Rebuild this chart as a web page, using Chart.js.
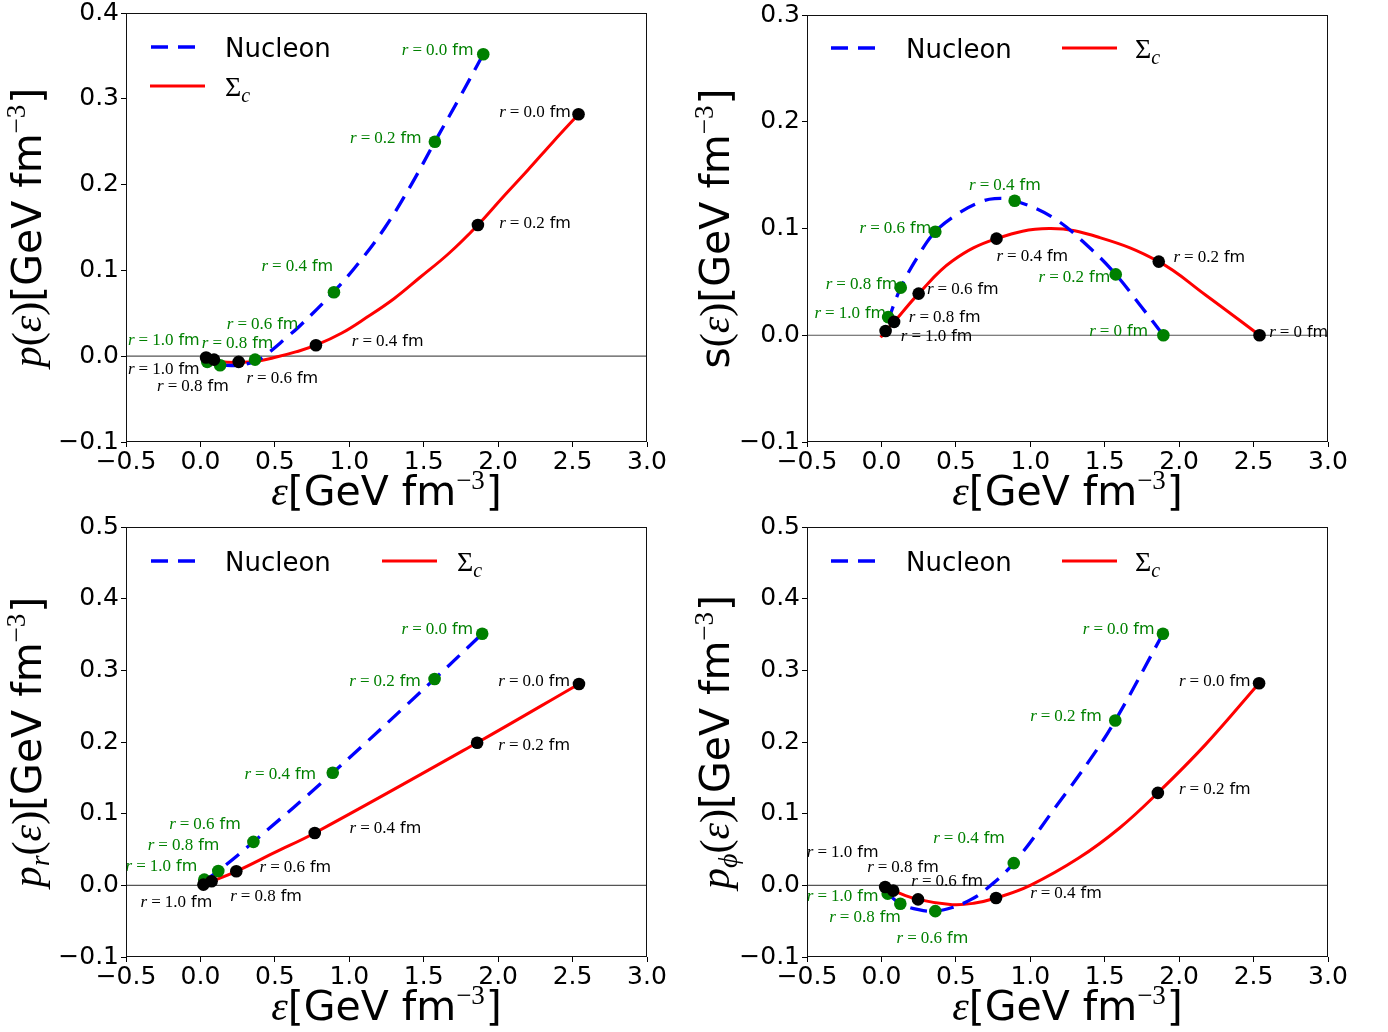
<!DOCTYPE html>
<html><head><meta charset="utf-8">
<script src="https://cdn.jsdelivr.net/npm/chart.js@4.4.1/dist/chart.umd.min.js"></script>
<style>
html,body{margin:0;padding:0;background:#fff}
body{width:1388px;height:1032px;position:relative;overflow:hidden}
.p{position:absolute;width:694px;height:516px}
canvas{display:block}
</style></head><body>
<div class="p" style="left:0;top:0"><canvas id="c1" width="694" height="516"></canvas></div>
<div class="p" style="left:694px;top:0"><canvas id="c2" width="694" height="516"></canvas></div>
<div class="p" style="left:0;top:516px"><canvas id="c3" width="694" height="516"></canvas></div>
<div class="p" style="left:694px;top:516px"><canvas id="c4" width="694" height="516"></canvas></div>
<script>
// ---------------- DATA ----------------
const rLabels  = ['0.0','0.2','0.4','0.6','0.8','1.0'];
const rLabelsS = ['0','0.2','0.4','0.6','0.8','1.0'];
const seriesNames = ['Nucleon', 'Σc'];
const xTicks = [-0.5, 0.0, 0.5, 1.0, 1.5, 2.0, 2.5, 3.0];

// Panel 1: p(eps)
const p_nucEps = [1.90, 1.575, 0.897, 0.367, 0.132, 0.046];
const p_nucVal = [0.352, 0.250, 0.0746, -0.004, -0.0105, -0.0066];
const p_sigEps = [2.54, 1.864, 0.776, 0.257, 0.091, 0.038];
const p_sigVal = [0.282, 0.153, 0.0128, -0.0066, -0.004, -0.0015];
const p_nucCurveEps = [0.13, 0.25, 0.37, 0.45, 0.58, 0.66, 0.89, 1.06, 1.24, 1.41, 1.575, 1.74, 1.90];
const p_nucCurveVal = [-0.0105, -0.0105, -0.006, 0.003, 0.022, 0.034, 0.074, 0.108, 0.150, 0.198, 0.250, 0.301, 0.352];
const p_sigCurveEps = [0.03, 0.13, 0.25, 0.38, 0.51, 0.64, 0.776, 0.95, 1.115, 1.30, 1.476, 1.67, 1.864, 2.03, 2.2, 2.37, 2.54];
const p_sigCurveVal = [-0.002, -0.0062, -0.0072, -0.0058, -0.001, 0.005, 0.0128, 0.027, 0.045, 0.067, 0.092, 0.120, 0.153, 0.185, 0.217, 0.250, 0.282];

// Panel 2: s(eps)
const s_nucEps = [1.894, 1.574, 0.895, 0.362, 0.13, 0.045];
const s_nucVal = [0.0, 0.057, 0.126, 0.097, 0.0446, 0.017];
const s_sigEps = [2.54, 1.863, 0.773, 0.25, 0.085, 0.028];
const s_sigVal = [0.0, 0.069, 0.0905, 0.039, 0.0125, 0.004];
const s_nucCurveEps = [0.04, 0.13, 0.25, 0.362, 0.504, 0.65, 0.76, 0.895, 1.155, 1.41, 1.574, 1.75, 1.894];
const s_nucCurveVal = [0.012, 0.0446, 0.075, 0.097, 0.113, 0.124, 0.128, 0.126, 0.110, 0.0805, 0.057, 0.026, 0.0];
const s_sigCurveEps = [-0.005, 0.028, 0.085, 0.25, 0.476, 0.773, 1.127, 1.467, 1.863, 2.175, 2.54];
const s_sigCurveVal = [-0.002, 0.004, 0.0125, 0.039, 0.0696, 0.0905, 0.0999, 0.0915, 0.069, 0.038, 0.0];

// Panel 3: p_r(eps)
const pr_nucEps = [1.893, 1.573, 0.889, 0.356, 0.12, 0.026];
const pr_nucVal = [0.351, 0.288, 0.157, 0.0606, 0.020, 0.008];
const pr_sigEps = [2.543, 1.859, 0.768, 0.241, 0.075, 0.02];
const pr_sigVal = [0.281, 0.199, 0.073, 0.0196, 0.0056, 0.001];
const pr_nucCurveEps = [0.026, 0.12, 0.356, 0.889, 1.573, 1.893];
const pr_nucCurveVal = [0.006, 0.020, 0.0606, 0.157, 0.288, 0.351];
const pr_sigCurveEps = [0.02, 0.075, 0.241, 0.5, 0.768, 1.859, 2.543];
const pr_sigCurveVal = [0.001, 0.0056, 0.0196, 0.046, 0.073, 0.199, 0.281];

// Panel 4: p_phi(eps)
const pf_nucEps = [1.891, 1.571, 0.889, 0.362, 0.127, 0.042];
const pf_nucVal = [0.351, 0.230, 0.031, -0.036, -0.0256, -0.0116];
const pf_sigEps = [2.537, 1.857, 0.770, 0.246, 0.079, 0.025];
const pf_sigVal = [0.282, 0.129, -0.0177, -0.0196, -0.0074, -0.0023];
const pf_nucCurveEps = [0.042, 0.127, 0.25, 0.362, 0.476, 0.6, 0.70, 0.889, 1.18, 1.40, 1.571, 1.891];
const pf_nucCurveVal = [-0.0116, -0.0256, -0.034, -0.036, -0.031, -0.02, -0.006, 0.031, 0.112, 0.175, 0.230, 0.351];
const pf_sigCurveEps = [0.025, 0.079, 0.246, 0.476, 0.62, 0.77, 1.0, 1.325, 1.6, 1.857, 2.175, 2.537];
const pf_sigCurveVal = [-0.0023, -0.0074, -0.0196, -0.027, -0.025, -0.0177, 0.0, 0.038, 0.080, 0.129, 0.196, 0.282];

// ---------------- ANNOTATION ANCHORS (data units: left x, middle y) ----------------
const annot = {
  p:  {nuc: [[1.353,0.358],[1.005,0.2556],[0.41,0.1066],[0.177,0.0385],[0.009,0.0167],[-0.487,0.0206]],
       sig: [[2.007,0.2855],[2.007,0.1565],[1.017,0.0186],[0.309,-0.0241],[-0.291,-0.0338],[-0.487,-0.0143]]},
  s:  {nuc: [[1.396,0.0047],[1.056,0.0556],[0.589,0.1414],[-0.147,0.1018],[-0.374,0.0493],[-0.45,0.0222]],
       sig: [[2.605,0.004],[1.962,0.0743],[0.773,0.0752],[0.306,0.044],[0.184,0.0181],[0.130,0.0]]},
  pr: {nuc: [[1.351,0.359],[1.0,0.287],[0.296,0.157],[-0.21,0.0872],[-0.354,0.0574],[-0.503,0.028]],
       sig: [[2.001,0.287],[2.001,0.197],[1.002,0.0807],[0.397,0.0266],[0.2,-0.013],[-0.402,-0.0224]]},
  pf: {nuc: [[1.353,0.3585],[0.999,0.2374],[0.348,0.0675],[0.102,-0.0726],[-0.351,-0.0433],[-0.501,-0.013]],
       sig: [[1.999,0.2863],[1.999,0.136],[0.999,-0.0093],[0.201,0.0079],[-0.096,0.027],[-0.501,0.0475]]}
};

// ---------------- HELPERS ----------------
const SERIF = '"Liberation Serif", "DejaVu Serif", serif';
const SANS = '"DejaVu Sans", sans-serif';
const GREEN = '#008000';
function pts(xs, ys){ return xs.map((x,i)=>({x:x, y:ys[i]})); }
function fmt(v){ const r = Math.round(v*10)/10; return (r<0?'\u2212':'') + Math.abs(r).toFixed(1); }

function richWidth(ctx, segs){ let w=0; for(const s of segs){ ctx.font=s.f; w+=ctx.measureText(s.t).width+(s.sp||0);} return w; }
function drawRich(ctx, segs, x, y, align, rot, color){
  ctx.save(); ctx.translate(x,y); if(rot) ctx.rotate(rot);
  const w = richWidth(ctx, segs);
  let cx = align==='center' ? -w/2 : (align==='right' ? -w : 0);
  ctx.textBaseline='alphabetic'; ctx.textAlign='left';
  for(const s of segs){ ctx.font=s.f; ctx.fillStyle=s.c||color||'#000'; ctx.fillText(s.t, cx, s.dy||0); cx += ctx.measureText(s.t).width+(s.sp||0); }
  ctx.restore();
}
function rSegs(val){
  return [
    {t:'r', f:'italic 17px '+SERIF, sp:4},
    {t:'=', f:'17px '+SERIF, sp:4},
    {t:val, f:'17px '+SERIF, sp:5},
    {t:'fm', f:'16px '+SANS}
  ];
}
function unitSegs(sz){
  return [
    {t:'[GeV fm', f:sz+'px '+SANS},
    {t:'\u22123', f:Math.round(sz*0.67)+'px '+SERIF, dy:-Math.round(sz*0.39), sp:1},
    {t:']', f:sz+'px '+SANS}
  ];
}
const xTitle = [{t:'\u03b5', f:'italic 42px '+SERIF}].concat(unitSegs(41));
function yT(head){ return head.concat(unitSegs(41)); }
const yTitles = {
  p:  yT([{t:'p', f:'italic 42px '+SERIF},{t:'(', f:'42px '+SERIF},{t:'\u03b5', f:'italic 42px '+SERIF},{t:')', f:'42px '+SERIF}]),
  s:  yT([{t:'s', f:'41px '+SANS},{t:'(', f:'42px '+SERIF},{t:'\u03b5', f:'italic 42px '+SERIF},{t:')', f:'42px '+SERIF}]),
  pr: yT([{t:'p', f:'italic 42px '+SERIF},{t:'r', f:'italic 28px '+SERIF, dy:8},{t:'(', f:'42px '+SERIF},{t:'\u03b5', f:'italic 42px '+SERIF},{t:')', f:'42px '+SERIF}]),
  pf: yT([{t:'p', f:'italic 42px '+SERIF},{t:'\u03d5', f:'italic 28px '+SERIF, dy:8},{t:'(', f:'42px '+SERIF},{t:'\u03b5', f:'italic 42px '+SERIF},{t:')', f:'42px '+SERIF}])
};

const decoPlugin = {
  id:'deco',
  afterDatasetsDraw(chart){
    const o = chart.config._deco; if(!o) return;
    const ctx = chart.ctx, a = chart.chartArea, xs = chart.scales.x, ys = chart.scales.y;
    ctx.save();
    ctx.beginPath(); ctx.rect(a.left, a.top, a.right-a.left, a.bottom-a.top); ctx.clip();
    const groups = [{pos:o.annot.nuc, c:GREEN}, {pos:o.annot.sig, c:'#000'}];
    groups.forEach(g=>{
      g.pos.forEach((pp,i)=>{
        const px = xs.getPixelForValue(pp[0]), py = ys.getPixelForValue(pp[1]);
        drawRich(ctx, rSegs(o.rl[i]), px, py+6, 'left', 0, g.c);
      });
    });
    ctx.restore();
  },
  afterDraw(chart){
    const o = chart.config._deco; if(!o) return;
    const ctx = chart.ctx, a = chart.chartArea;
    ctx.save(); ctx.strokeStyle='#111'; ctx.lineWidth=1;
    ctx.strokeRect(Math.round(a.left)+0.5, Math.round(a.top)+0.5, Math.round(a.right-a.left)-1, Math.round(a.bottom-a.top)-1);
    ctx.restore();
    const L = o.legend;
    ctx.save();
    ctx.lineCap='butt';
    ctx.strokeStyle='#0000ff'; ctx.lineWidth=3.3; ctx.setLineDash([17,10]);
    ctx.beginPath(); ctx.moveTo(L.n[0], L.n[2]); ctx.lineTo(L.n[1], L.n[2]); ctx.stroke();
    ctx.setLineDash([]); ctx.strokeStyle='#ff0000'; ctx.lineWidth=3;
    ctx.beginPath(); ctx.moveTo(L.s[0], L.s[2]); ctx.lineTo(L.s[1], L.s[2]); ctx.stroke();
    ctx.restore();
    drawRich(ctx, [{t:seriesNames[0], f:'26px '+SANS}], L.n[3], L.n[2]+9.5, 'left', 0, '#000');
    drawRich(ctx, [{t:'\u03a3', f:'28px '+SERIF},{t:'c', f:'italic 20px '+SERIF, dy:6}], L.s[3], L.s[2]+9.5, 'left', 0, '#000');
    drawRich(ctx, xTitle, (a.left+a.right)/2, a.bottom+63, 'center', 0, '#000');
    drawRich(ctx, o.ytitle, o.ytx, (a.top+a.bottom)/2, 'center', -Math.PI/2, '#000');
  }
};

function makeChart(id, cfg){
  const datasets = [
    {data: pts([-0.5, 3.0],[0,0]), showLine:true, borderColor:'#555', borderWidth:1.2, pointRadius:0, order:3},
    {data: pts(cfg.nc[0], cfg.nc[1]), showLine:true, borderColor:'#0000ff', borderWidth:3.3, borderDash:[17,10], pointRadius:0, tension:0.4, order:2},
    {data: pts(cfg.sc[0], cfg.sc[1]), showLine:true, borderColor:'#ff0000', borderWidth:3, pointRadius:0, tension:0.4, order:2},
    {data: pts(cfg.nm[0], cfg.nm[1]), showLine:false, pointRadius:6.3, pointBackgroundColor:GREEN, pointBorderWidth:0, order:1},
    {data: pts(cfg.sm[0], cfg.sm[1]), showLine:false, pointRadius:6.3, pointBackgroundColor:'#000', pointBorderWidth:0, order:0}
  ];
  const tickFont = {family:'DejaVu Sans', size:25, lineHeight:1};
  const chart = new Chart(document.getElementById(id), {
    type:'scatter',
    data:{datasets},
    options:{
      responsive:false, animation:false, devicePixelRatio:1,
      layout:{padding:{left:0, top:cfg.top, right:cfg.right, bottom:0}},
      plugins:{legend:{display:false}, tooltip:{enabled:false}},
      scales:{
        x:{type:'linear', min:-0.5, max:3.0,
           afterBuildTicks:(s)=>{ s.ticks = xTicks.map(v=>({value:v})); },
           ticks:{font:tickFont, color:'#000', padding:3, maxRotation:0, autoSkip:false, callback:(v)=>fmt(v)},
           grid:{display:true, drawOnChartArea:false, drawTicks:true, tickLength:5, tickColor:'#000', tickWidth:1},
           border:{display:false},
           afterFit:(s)=>{ s.height = cfg.xh; s.paddingLeft=0; s.paddingRight=0; s.paddingTop=0; s.paddingBottom=0; }},
        y:{type:'linear', min:-0.1, max:cfg.ymax,
           ticks:{font:tickFont, color:'#000', padding:2, stepSize:0.1, callback:(v)=>fmt(v)},
           grid:{display:true, drawOnChartArea:false, drawTicks:true, tickLength:5, tickColor:'#000', tickWidth:1},
           border:{display:false},
           afterFit:(s)=>{ s.width = cfg.yw; s.paddingTop=0; s.paddingBottom=0; s.paddingLeft=0; s.paddingRight=0; }}
      }
    },
    plugins:[decoPlugin]
  });
  chart.config._deco = cfg.deco;
  chart.draw();
  return chart;
}

makeChart('c1', {top:13, right:47, xh:74, yw:126, ymax:0.4,
  nc:[p_nucCurveEps,p_nucCurveVal], sc:[p_sigCurveEps,p_sigCurveVal], nm:[p_nucEps,p_nucVal], sm:[p_sigEps,p_sigVal],
  deco:{annot:annot.p, rl:rLabels, ytitle:yTitles.p, ytx:41, legend:{n:[151,196,47,225], s:[150,205,86,225]}}});
makeChart('c2', {top:15, right:60, xh:74, yw:113, ymax:0.3,
  nc:[s_nucCurveEps,s_nucCurveVal], sc:[s_sigCurveEps,s_sigCurveVal], nm:[s_nucEps,s_nucVal], sm:[s_sigEps,s_sigVal],
  deco:{annot:annot.s, rl:rLabelsS, ytitle:yTitles.s, ytx:35, legend:{n:[137,181,48,212], s:[368,423,48,441]}}});
makeChart('c3', {top:11, right:47, xh:75, yw:126, ymax:0.5,
  nc:[pr_nucCurveEps,pr_nucCurveVal], sc:[pr_sigCurveEps,pr_sigCurveVal], nm:[pr_nucEps,pr_nucVal], sm:[pr_sigEps,pr_sigVal],
  deco:{annot:annot.pr, rl:rLabels, ytitle:yTitles.pr, ytx:41, legend:{n:[151,196,45,225], s:[382,437,45,457]}}});
makeChart('c4', {top:11, right:60, xh:75, yw:113, ymax:0.5,
  nc:[pf_nucCurveEps,pf_nucCurveVal], sc:[pf_sigCurveEps,pf_sigCurveVal], nm:[pf_nucEps,pf_nucVal], sm:[pf_sigEps,pf_sigVal],
  deco:{annot:annot.pf, rl:rLabels, ytitle:yTitles.pf, ytx:35, legend:{n:[137,181,45,212], s:[368,423,45,441]}}});
</script>
</body></html>
